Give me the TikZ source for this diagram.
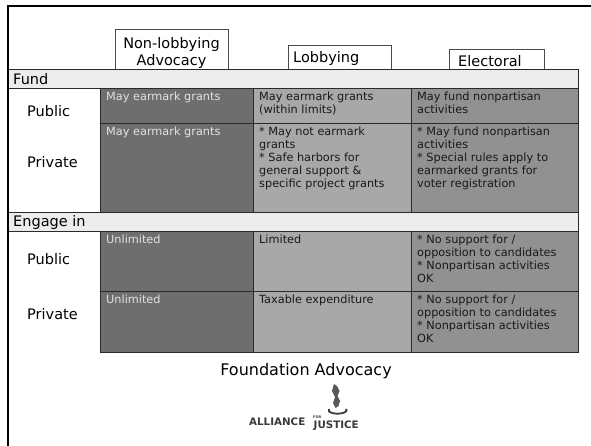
\documentclass[tikz,border=0pt]{standalone}
\usepackage{fontspec}
\setmainfont{DejaVu Sans}
\definecolor{darkcell}{HTML}{6E6E6E}
\definecolor{lightcell}{HTML}{A8A8A8}
\definecolor{midcell}{HTML}{919191}
\definecolor{barfill}{HTML}{ECECEC}
\definecolor{edgecol}{HTML}{2A2A2A}
\definecolor{ltext}{HTML}{E2E2E2}
\definecolor{logocol}{HTML}{3A3A3A}
\tikzset{
  cellbox/.style={draw=edgecol, line width=0.9pt},
  celltext/.style={anchor=north west, inner sep=0pt, align=left, font=\fontsize{11.3}{13}\selectfont, text=black!90},
  celllight/.style={celltext, text=ltext},
  hdrbox/.style={draw=black!70, line width=0.8pt, fill=white},
  hdrtext/.style={inner sep=0pt, font=\fontsize{14.5}{15}\selectfont},
  rowlabel/.style={anchor=base west, inner sep=0pt, font=\fontsize{14.5}{15}\selectfont},
  logotext/.style={inner sep=0pt, anchor=base west, text=logocol},
}
\begin{document}
\begin{tikzpicture}[x=1pt,y=-1pt]
\useasboundingbox (0,0) rectangle (591,445);
\fill[white] (0,0) rectangle (591,445);

% header boxes
\draw[hdrbox] (115,29) rectangle (228,69);
\draw[hdrbox] (288,45) rectangle (391,69);
\draw[hdrbox] (449,49) rectangle (544,69);
\node[hdrtext, anchor=north, align=center] (hnl) at (171.5,37.5) {\strut Non-lobbying\\Advocacy};
\node[hdrtext, anchor=base west] (hlob) at (293,62) {Lobbying};
\node[hdrtext, anchor=base west] (hel) at (458,66) {Electoral};

% section bars
\draw[cellbox, fill=barfill] (7,69) rectangle (578,88);
\draw[cellbox, fill=barfill] (7,212) rectangle (578,231);
\node[rowlabel] (fund) at (13,84) {Fund};
\node[rowlabel] (engage) at (13,226) {Engage in};

% fund cells
\draw[cellbox, fill=darkcell] (100,88) rectangle (253,123);
\draw[cellbox, fill=lightcell] (253,88) rectangle (411,123);
\draw[cellbox, fill=midcell] (411,88) rectangle (578,123);
\draw[cellbox, fill=darkcell] (100,123) rectangle (253,212);
\draw[cellbox, fill=lightcell] (253,123) rectangle (411,212);
\draw[cellbox, fill=midcell] (411,123) rectangle (578,212);
% engage cells
\draw[cellbox, fill=darkcell] (100,231) rectangle (253,291);
\draw[cellbox, fill=lightcell] (253,231) rectangle (411,291);
\draw[cellbox, fill=midcell] (411,231) rectangle (578,291);
\draw[cellbox, fill=darkcell] (100,291) rectangle (253,352);
\draw[cellbox, fill=lightcell] (253,291) rectangle (411,352);
\draw[cellbox, fill=midcell] (411,291) rectangle (578,352);

% row labels
\node[rowlabel] (fpub) at (27,116) {Public};
\node[rowlabel] (fpriv) at (27,167) {Private};
\node[rowlabel] (epub) at (27,264) {Public};
\node[rowlabel] (epriv) at (27,319) {Private};

% cell texts
\node[celllight] (t11) at (106,91.4) {\strut May earmark grants};
\node[celltext] (t12) at (259,91.4) {\strut May earmark grants\\(within limits)};
\node[celltext] (t13) at (417,91.4) {\strut May fund nonpartisan\\activities};
\node[celllight] (t21) at (106,126.4) {\strut May earmark grants};
\node[celltext] (t22) at (259,126.4) {\strut * May not earmark\\grants\\* Safe harbors for\\general support \&\\specific project grants};
\node[celltext] (t23) at (417,126.4) {\strut * May fund nonpartisan\\activities\\* Special rules apply to\\earmarked grants for\\voter registration};
\node[celllight] (t31) at (106,234.4) {\strut Unlimited};
\node[celltext] (t32) at (259,234.4) {\strut Limited};
\node[celltext] (t33) at (417,234.4) {\strut * No support for /\\opposition to candidates\\* Nonpartisan activities\\OK};
\node[celllight] (t41) at (106,294.4) {\strut Unlimited};
\node[celltext] (t42) at (259,294.4) {\strut Taxable expenditure};
\node[celltext] (t43) at (417,294.4) {\strut * No support for /\\opposition to candidates\\* Nonpartisan activities\\OK};

% caption
\node[inner sep=0pt, anchor=base, font=\fontsize{16}{18}\selectfont] (cap) at (306,375) {Foundation Advocacy};

% logo
\fill[logocol!85] (334,384) -- (337,386) -- (339.5,391) -- (337.5,396) -- (340,401) -- (338.5,406) -- (335.5,408) -- (333,403) -- (335,397) -- (332,391) -- cycle;
\draw[logocol, line width=1.8pt] (346,409) arc[start angle=-20, end angle=200, x radius=9, y radius=3.5];
\node[logotext, font=\fontsize{10.3}{10}\bfseries] (lall) at (249,425) {ALLIANCE};
\node[logotext, font=\fontsize{3.5}{4}\bfseries] (lfor) at (313,418.5) {FOR};
\node[logotext, font=\fontsize{10.3}{10}\bfseries] (ljus) at (313.5,428) {JUSTICE};

% frame
\draw[line width=2.2pt, line cap=rect] (7.7,445) -- (7.7,6) -- (591,6);
\end{tikzpicture}
\end{document}
